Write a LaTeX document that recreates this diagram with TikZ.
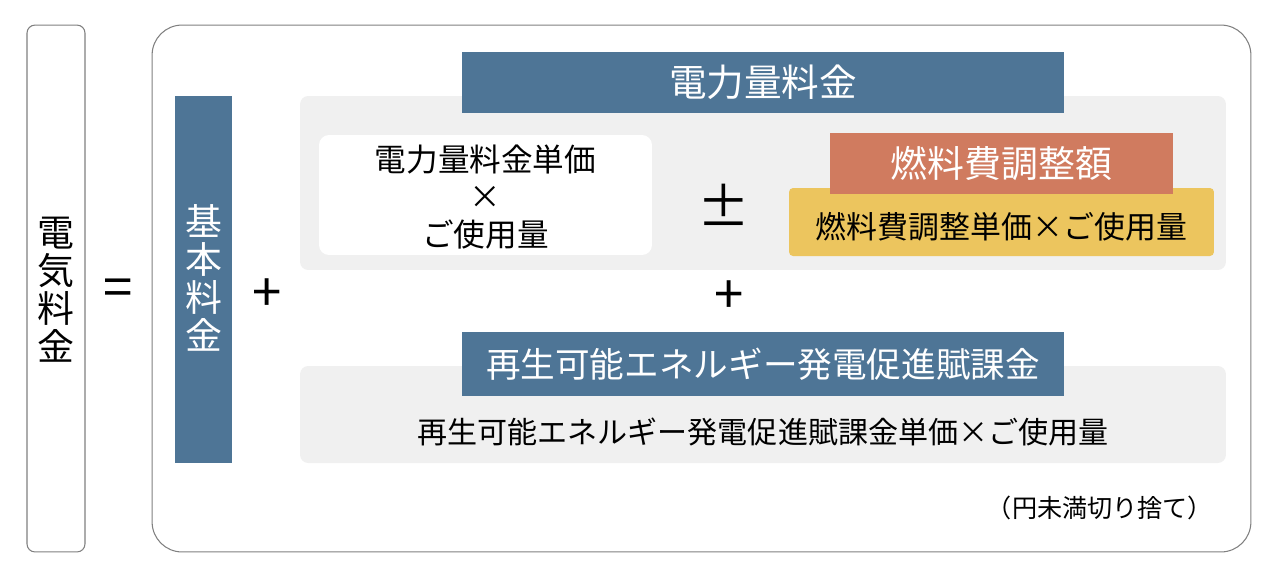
\documentclass[tikz,border=0pt]{standalone}
\usepackage{fontspec}
\newfontfamily\jpfont{Noto Sans CJK JP}
\definecolor{hdrblue}{HTML}{4E7596}
\definecolor{fuelred}{HTML}{D07B5F}
\definecolor{fuelyel}{HTML}{ECC55E}
\definecolor{panelgray}{HTML}{F0F0F0}
\definecolor{framegray}{HTML}{808080}
\begin{document}
\begin{tikzpicture}[x=0.02cm,y=-0.02cm,
    every node/.style={font=\jpfont},
    frm/.style={draw=framegray,line width=0.6pt,inner sep=0pt},
    panel/.style={fill=panelgray,rounded corners=0.16cm,inner sep=0pt},
    hdr/.style={fill=hdrblue,text=white,inner sep=0pt,
      font=\jpfont\fontsize{21.4}{24}\selectfont},
    vert/.style={align=center,inner sep=0pt,font=\jpfont\fontsize{21}{21.6}\selectfont},
    op/.style={inner sep=0pt,font=\jpfont\fontsize{30}{30}\selectfont},
    body/.style={inner sep=0pt,font=\jpfont\fontsize{17.1}{22}\selectfont}]
  \useasboundingbox (0,0) rectangle (1279,583);
  % left side: the total
  \node[frm,rounded corners=0.16cm,minimum width=1.16cm,minimum height=10.54cm]
    (total) at (56,288.5) {};
  \node[vert] (totaltxt) at (56,290) {電\\気\\料\\金};
  \node[op] (eq) at (118,293) {=};
  % right side: the frame and its parts
  \node[frm,rounded corners=0.6cm,minimum width=21.98cm,minimum height=10.54cm]
    (frame) at (701.5,288.5) {};
  \node[hdr,minimum width=1.14cm,minimum height=7.34cm] (base) at (203.5,279.5) {};
  \node[vert,text=white] (basetxt) at (203.5,278) {基\\本\\料\\金};
  \node[op] (plusa) at (267,295) {+};
  % energy charge
  \node[panel,minimum width=18.52cm,minimum height=3.48cm] (energy) at (763,183) {};
  \node[hdr,minimum width=12.04cm,minimum height=1.22cm] (energyhdr) at (763,82.5) {電力量料金};
  \node[fill=white,rounded corners=0.2cm,minimum width=6.66cm,minimum height=2.4cm,
    inner sep=0pt] (unit) at (485.5,195) {};
  \node[align=center,inner sep=0pt,font=\jpfont\fontsize{18}{21.5}\selectfont]
    (unittxt) at (485.5,197) {電力量料金単価\\×\\ご使用量};
  \node[op] (pm) at (724,205) {±};
  \node[fill=fuelyel,rounded corners=0.08cm,minimum width=8.5cm,minimum height=1.36cm,
    inner sep=0pt] (fuel) at (1001.5,222) {};
  \node[hdr,fill=fuelred,minimum width=6.86cm,minimum height=1.22cm,
    font=\jpfont\fontsize{21}{24}\selectfont] (fuelhdr) at (1001.5,163.5) {燃料費調整額};
  \node[body,font=\jpfont\fontsize{17.6}{22}\selectfont] (fueltxt) at (1001.5,227)
    {燃料費調整単価×ご使用量};
  \node[op] (plusb) at (729,297) {+};
  % renewable energy surcharge
  \node[panel,minimum width=18.52cm,minimum height=1.94cm] (renew) at (763,414.5) {};
  \node[hdr,minimum width=12.04cm,minimum height=1.28cm,
    font=\jpfont\fontsize{19.7}{24}\selectfont] (renewhdr) at (763,364)
    {再生可能エネルギー発電促進賦課金};
  \node[body] (renewtxt) at (763,432) {再生可能エネルギー発電促進賦課金単価×ご使用量};
  \node[inner sep=0pt,font=\jpfont\fontsize{14.3}{16}\selectfont] (note) at (1100,508)
    {（円未満切り捨て）};
\end{tikzpicture}
\end{document}
